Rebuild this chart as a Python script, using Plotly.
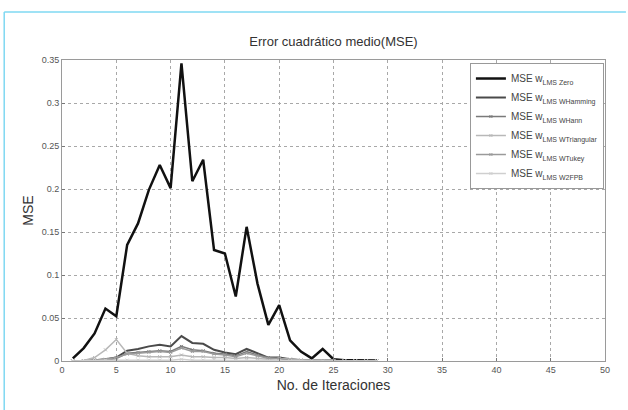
import plotly.graph_objects as go

iteraciones = list(range(1, 30))

mse_zero = [0.003, 0.015, 0.032, 0.061, 0.052, 0.135, 0.160, 0.199, 0.228, 0.201,
            0.346, 0.209, 0.234, 0.129, 0.125, 0.075, 0.156, 0.090, 0.042, 0.065,
            0.024, 0.011, 0.003, 0.014, 0.002, 0.001, 0.001, 0.001, 0.0005]
mse_hamming = [0, 0, 0.001, 0.002, 0.004, 0.012, 0.014, 0.017, 0.019, 0.017,
               0.029, 0.021, 0.020, 0.013, 0.010, 0.008, 0.014, 0.009, 0.004, 0.004,
               0.002, 0.001, 0.001, 0.0005, 0.0005, 0, 0, 0, 0]
mse_hann = [0, 0, 0.0005, 0.001, 0.003, 0.009, 0.010, 0.011, 0.012, 0.011,
            0.017, 0.013, 0.012, 0.009, 0.008, 0.006, 0.011, 0.007, 0.004, 0.003,
            0.002, 0.001, 0.0005, 0.0003, 0.0002, 0, 0, 0, 0]
mse_triangular = [0, 0.0005, 0.004, 0.013, 0.025, 0.009, 0.006, 0.005, 0.005, 0.005,
                  0.007, 0.005, 0.005, 0.004, 0.004, 0.003, 0.004, 0.003, 0.002, 0.003,
                  0.002, 0.001, 0.0005, 0.0003, 0.0002, 0, 0, 0, 0]
mse_tukey = [0, 0, 0.001, 0.002, 0.004, 0.008, 0.009, 0.010, 0.011, 0.010,
             0.015, 0.011, 0.011, 0.008, 0.007, 0.005, 0.009, 0.006, 0.003, 0.003,
             0.001, 0.0005, 0.0003, 0.0002, 0.0001, 0, 0, 0, 0]
mse_w2fpb = [0, 0, 0.0005, 0.001, 0.001, 0.001, 0.001, 0.001, 0.001, 0.001,
             0.002, 0.001, 0.001, 0.001, 0.001, 0.001, 0.001, 0.001, 0.0005, 0.0005,
             0.0003, 0.0002, 0.0001, 0, 0, 0, 0, 0, 0]

series_names = [
    "MSE w<sub>LMS Zero</sub>",
    "MSE w<sub>LMS WHamming</sub>",
    "MSE w<sub>LMS WHann</sub>",
    "MSE w<sub>LMS WTriangular</sub>",
    "MSE w<sub>LMS WTukey</sub>",
    "MSE w<sub>LMS W2FPB</sub>",
]
series_values = [mse_zero, mse_hamming, mse_hann, mse_triangular, mse_tukey, mse_w2fpb]
series_colors = ["#111111", "#4a4a4a", "#7a7a7a", "#b8b8b8", "#9a9a9a", "#cfcfcf"]
series_widths = [2.5, 2, 1.5, 1.5, 1.5, 1.5]
series_markers = [False, False, True, True, True, True]

x_ticks = [0, 5, 10, 15, 20, 25, 30, 35, 40, 45, 50]
y_ticks = [0, 0.05, 0.1, 0.15, 0.2, 0.25, 0.3, 0.35]
y_tick_labels = ["0", "0.05", "0.1", "0.15", "0.2", "0.25", "0.3", "0.35"]

fig = go.Figure()
for name, vals, col, w, mk in zip(series_names, series_values, series_colors,
                                  series_widths, series_markers):
    fig.add_trace(go.Scatter(
        x=iteraciones, y=vals, name=name,
        mode="lines+markers" if mk else "lines",
        line=dict(color=col, width=w),
        marker=dict(size=3, color=col, symbol="x-thin-open", line=dict(width=1, color=col)),
    ))

axis_common = dict(
    showgrid=True, gridcolor="#a8a8a8", griddash="dot", gridwidth=1,
    showline=True, linecolor="#9a9a9a", linewidth=1, mirror=True,
    ticks="inside", ticklen=3, tickcolor="#777777",
    zeroline=False,
    tickfont=dict(family="Liberation Sans", size=9, color="#555555"),
)

fig.update_layout(
    width=628, height=410,
    margin=dict(l=62, r=23, t=60, b=49),
    paper_bgcolor="white", plot_bgcolor="white",
    title=dict(text="Error cuadrático medio(MSE)", x=0.5, xanchor="center",
               xref="paper", y=1, yref="paper", yanchor="bottom", pad=dict(b=14),
               font=dict(family="Liberation Sans", size=13, color="#333333")),
    xaxis=dict(range=[0, 50], tickvals=x_ticks,
               title=dict(text="No. de Iteraciones", standoff=6,
                          font=dict(family="Liberation Sans", size=14, color="#333333")),
               **axis_common),
    yaxis=dict(range=[0, 0.35], tickvals=y_ticks, ticktext=y_tick_labels,
               title=dict(text="MSE", standoff=4,
                          font=dict(family="Liberation Sans", size=14, color="#333333")),
               **axis_common),
    legend=dict(x=0.998, y=0.99, xanchor="right", yanchor="top",
                bgcolor="white", bordercolor="#999999", borderwidth=1,
                font=dict(family="Liberation Sans", size=10, color="#444444"),
                itemwidth=30, tracegroupgap=0),
    shapes=[
        dict(type="line", xref="paper", yref="paper", x0=-58/545, x1=-58/545,
             y0=-49/301, y1=(361-12)/301, line=dict(color="#7fd8f2", width=1.5)),
        dict(type="line", xref="paper", yref="paper", x0=-58/545, x1=(628-62)/545,
             y0=(361-12)/301, y1=(361-12)/301, line=dict(color="#7fd8f2", width=1.5)),
    ],
)

fig.write_html("out.html")
